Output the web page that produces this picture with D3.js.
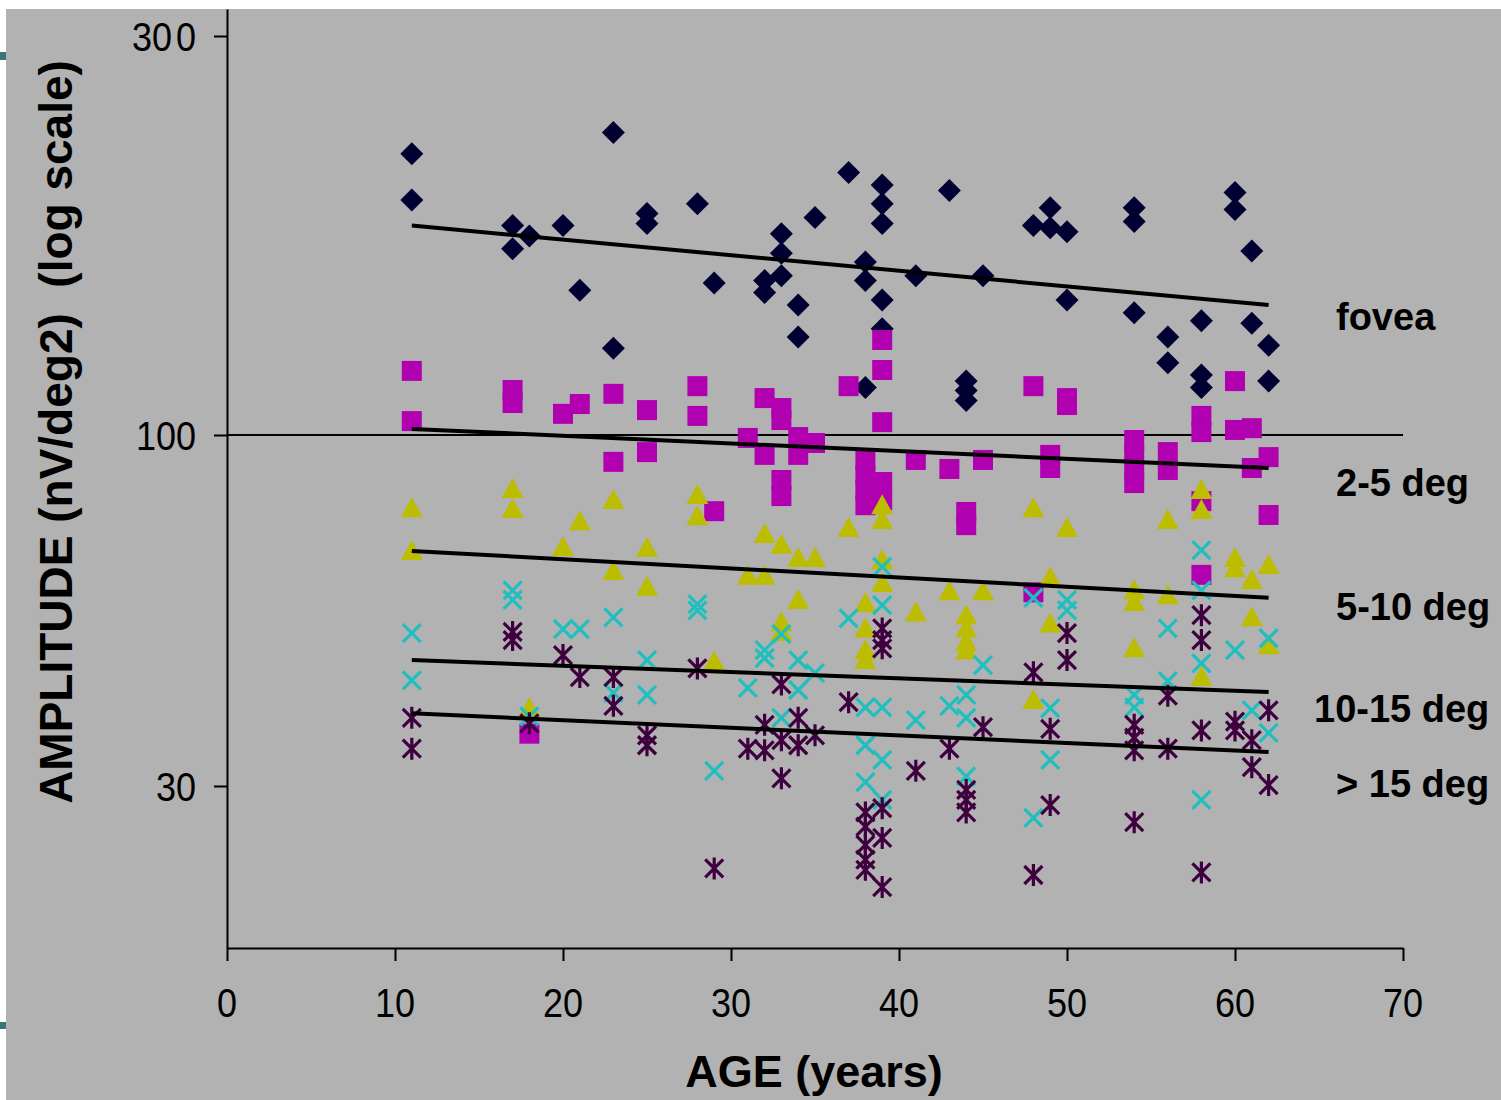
<!DOCTYPE html>
<html><head><meta charset="utf-8">
<script src="https://cdn.jsdelivr.net/npm/d3@7"></script>
<style>body{margin:0;background:#fff}svg{display:block}text{font-family:"Liberation Sans",Arial,sans-serif}</style>
</head><body>
<svg id="c" width="1501" height="1100"></svg>
<script>
// ---- data: [age, amplitude nV/deg2] ----
const fovea = [[11,217],[11,191],[17,178],[17,167],[18,173],[20,178],[21,149],[23,230],[23,127],[25,184],[25,179],[28,189],[29,152],[32,153],[32,148],[33,174],[33,165],[33,155],[34,143],[34,131],[35,182],[37,206],[38,161],[38,153],[38,114],[39,199],[39,189],[39,179],[39,145],[39,134],[41,155],[43,196],[44,116],[44,113],[44,110],[45,155],[48,178],[49,187],[49,177],[50,175],[50,145],[54,187],[54,180],[54,140],[56,131],[56,122],[58,137],[58,118],[58,114],[60,195],[60,186],[61,166],[61,136],[62,128],[62,116]];
const deg2to5 = [[11,119.3],[11,103.9],[17,113.2],[17,109.2],[18,35.9],[20,106],[21,108.9],[23,112],[23,91.2],[25,107.1],[25,94.3],[28,114.4],[28,105.4],[29,77],[31,99],[32,110.7],[32,93.4],[33,107.7],[33,104.2],[33,85.7],[33,81.1],[34,99.3],[34,93.4],[35,97.3],[37,114.4],[38,91.8],[38,87.2],[38,82.8],[38,78.6],[39,129.9],[39,119.6],[39,103.6],[39,85.1],[39,80],[41,91.8],[43,89],[44,76.8],[44,73.4],[45,91.8],[48,114.4],[48,58.3],[49,93.4],[49,89.3],[50,110.7],[50,108.6],[54,98.3],[54,93.4],[54,88.7],[54,84.8],[56,94.3],[56,88.7],[58,105.4],[58,100.8],[58,79.7],[58,61.9],[60,116],[60,101.4],[61,101.9],[61,89.3],[62,92.7],[62,76]];
const deg5to10 = [[11,77.8],[11,67.2],[17,83.1],[17,77.6],[18,39.2],[20,68.1],[21,74.4],[23,80],[23,62.7],[25,67.9],[25,59.4],[28,81.4],[28,75.7],[29,46],[31,61.7],[32,71.2],[32,61.7],[33,68.6],[33,52.6],[33,50.9],[34,65.6],[34,56.8],[35,65.6],[37,72.7],[38,56.2],[38,51.5],[38,47.8],[38,46.2],[39,78.6],[39,74.7],[39,65.1],[39,60.2],[41,54.4],[43,58.5],[44,53.9],[44,51.5],[44,49.1],[44,47.8],[45,58.5],[48,77.8],[48,40.3],[49,61.4],[49,52.4],[50,72.7],[54,58.7],[54,56.4],[54,48.1],[56,74.7],[56,57.7],[58,82.8],[58,77.3],[58,43.6],[60,65.6],[60,63.3],[61,60.8],[61,53.5],[62,64],[62,48.6]];
const deg10to15 = [[11,50.7],[11,43.1],[17,58.7],[17,56.8],[18,38.1],[20,51.4],[21,51.4],[23,53.5],[23,41.3],[25,46.2],[25,41],[28,56],[28,54.8],[29,31.6],[31,42],[32,47.8],[32,46.5],[33,50.5],[33,37.9],[34,46.2],[34,41.7],[35,44.2],[37,53.3],[38,39.3],[38,34.5],[38,30.4],[39,63.6],[39,55.8],[39,39.3],[39,32.8],[39,28.6],[41,37.6],[43,39.5],[44,41],[44,37.9],[44,31],[45,45.4],[48,57.2],[48,26.9],[49,39.2],[49,32.8],[50,56.8],[50,54.8],[54,41],[54,39.3],[56,51.5],[56,43],[58,67.4],[58,58.7],[58,45.7],[58,28.6],[60,47.8],[61,38.9],[62,49.8],[62,36]];
const deg15plus = [[11,37.9],[11,34.1],[17,50.9],[17,49.5],[18,37.2],[20,47],[21,43.6],[23,43.6],[23,39.5],[25,35.7],[25,34.5],[28,44.9],[29,22.6],[31,34.1],[32,37],[32,33.9],[33,42.5],[33,35.1],[33,30.8],[34,37.9],[34,34.5],[35,35.7],[37,40],[38,27.4],[38,26.1],[38,24.5],[38,23.3],[38,22.5],[39,51.5],[39,49.5],[39,48.1],[39,27.8],[39,25.1],[39,21.2],[41,31.6],[43,34.1],[44,29.6],[44,28.6],[44,27.4],[45,36.7],[48,44.3],[48,22.1],[49,36.5],[49,28.1],[50,50.7],[50,46.2],[54,37],[54,35.4],[54,33.9],[54,26.5],[56,40.9],[56,34.1],[58,53.9],[58,49.5],[58,36.3],[58,22.3],[60,37.4],[60,36.3],[61,35.1],[61,32],[62,38.9],[62,30.1]];
// trend line end values at ages 11 and 62
const trendAges = [11, 62];
const trendFovea = [178, 143];
const trend2to5 = [101.7, 89.3];
const trend5to10 = [67.2, 57.2];
const trend10to15 = [46.2, 41.4];
const trend15plus = [38.5, 33.7];
const seriesLabels = ["fovea", "2-5 deg", "5-10 deg", "10-15 deg", "> 15 deg"];
const xTicks = [0, 10, 20, 30, 40, 50, 60, 70];
const yTicks = [300, 100, 30];
const yTickLabels = ["300", "100", "30"];
const xTitle = "AGE (years)";
const yTitle = "AMPLITUDE (nV/deg2)  (log scale)";

// ---- drawing ----
const svg = d3.select('#c');
svg.append('rect').attr('x',6).attr('y',9).attr('width',1495).attr('height',1091).attr('fill','#b2b2b2');
svg.append('rect').attr('x',0).attr('y',52).attr('width',6).attr('height',8).attr('fill','#3d7575');
svg.append('rect').attr('x',0).attr('y',1022).attr('width',6).attr('height',7).attr('fill','#3d7575');

const x = d3.scaleLinear().domain([0,70]).range([227,1403]);
// piecewise log scale (tick spacing of the source differs per decade)
const y = d3.scaleLog().domain([323,300,100,30,17.2]).range([9,36,435,786,948]);

// gridline at 100
svg.append('line').attr('x1',x(0)).attr('x2',x(70)).attr('y1',y(100)).attr('y2',y(100))
  .attr('stroke','#000').attr('stroke-width',2);

const xAxis = svg.append('g').attr('transform',`translate(0,${y.range()[4]})`)
  .call(d3.axisBottom(x).tickValues(xTicks).tickSize(13).tickSizeOuter(0).tickFormat(''));
const yAxis = svg.append('g').attr('transform',`translate(${x(0)},0)`)
  .call(d3.axisLeft(y).tickValues(yTicks).tickSize(13).tickSizeOuter(0).tickFormat(''));
[xAxis,yAxis].forEach(g=>{g.selectAll('path,line').attr('stroke','#000').attr('stroke-width',2);});

// x tick labels
svg.selectAll('.xl').data(xTicks).enter().append('text')
  .attr('transform',d=>`translate(${x(d)},1017) scale(1,1.14)`)
  .attr('text-anchor','middle').attr('font-size',36).attr('fill','#000').text(d=>d);
// y tick labels
svg.selectAll('.yl').data(yTicks).enter().append('text')
  .attr('transform',d=>`translate(196,${y(d)+15}) scale(1,1.14)`)
  .attr('text-anchor','end').attr('font-size',36).attr('fill','#000')
  .each(function(d,i){
    const t=d3.select(this);
    if(d===300){ t.append('tspan').text(yTickLabels[i].slice(0,2)); t.append('tspan').attr('dx',4).text(yTickLabels[i].slice(2)); }
    else t.text(yTickLabels[i]);
  });

// titles
svg.append('text').attr('x',814).attr('y',1087).attr('text-anchor','middle')
  .attr('font-size',45).attr('font-weight','bold').text(xTitle);
svg.append('text').attr('transform','translate(72,432) rotate(-90)').attr('text-anchor','middle')
  .attr('font-size',46).attr('font-weight','bold').style('white-space','pre').text(yTitle);

// markers
const tri = 'M0,-11L11,9L-11,9Z';
const diamond = 'M0,-11.5L11.5,0L0,11.5L-11.5,0Z';
const square = 'M-10,-10H10V10H-10Z';
const cross = 'M-9,-9L9,9M-9,9L9,-9';
const aster = 'M-9,-9L9,9M-9,9L9,-9M0,-11V11';
const series = [
  {data:fovea, path:diamond, fill:'#000033', stroke:'none'},
  {data:deg2to5, path:square, fill:'#b000b0', stroke:'none'},
  {data:deg5to10, path:tri, fill:'#bcbc00', stroke:'none'},
  {data:deg10to15, path:cross, fill:'none', stroke:'#1fbfbf'},
  {data:deg15plus, path:aster, fill:'none', stroke:'#3f003f'}
];
series.forEach(s=>{
  svg.append('g').selectAll('path').data(s.data).enter().append('path')
    .attr('d',s.path).attr('transform',d=>`translate(${x(d[0])},${y(d[1])})`)
    .attr('fill',s.fill).attr('stroke',s.stroke).attr('stroke-width',3.2);
});

// trend lines
const line = d3.line().x(d=>x(d[0])).y(d=>y(d[1]));
[trendFovea,trend2to5,trend5to10,trend10to15,trend15plus].forEach(t=>{
  svg.append('path').attr('d',line(trendAges.map((a,i)=>[a,t[i]])))
    .attr('stroke','#000').attr('stroke-width',4).attr('fill','none');
});

// series labels
const labelPos = [[1336,330],[1336,496],[1336,620],[1314,722],[1336,797]];
svg.selectAll('.sl').data(seriesLabels).enter().append('text')
  .attr('x',(d,i)=>labelPos[i][0]).attr('y',(d,i)=>labelPos[i][1])
  .attr('font-size',38).attr('font-weight','bold').attr('fill','#000').text(d=>d);
</script>
</body></html>
